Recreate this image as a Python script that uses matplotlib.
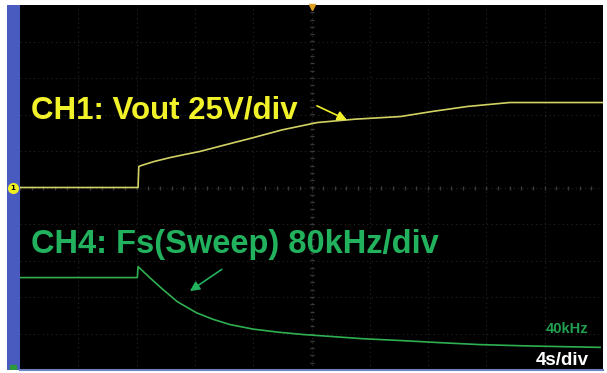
import numpy as np
import matplotlib.pyplot as plt
from matplotlib.patches import Rectangle

# time axis: 4 s/div, 10 divisions
t_div = 4.0
n_xdiv = 10
n_ydiv = 10

# CH1: Vout (V), 25 V/div, ground on centre line
ch1_t = [0, 8.1, 8.15, 8.4, 9.2, 10.3, 11.3, 12.35, 14.0, 15.8, 18.0, 20.4,
         23.0, 26.1, 28.3, 30.7, 33.6, 40]
ch1_v = [0, 0, 14.4, 15.3, 17.8, 20.5, 22.6, 24.7, 29.0, 33.6, 39.5, 44.5,
         46.8, 48.6, 52.1, 55.5, 58.2, 58.2]
ch1_scale = 25.0

# CH4: switching frequency sweep (kHz), 80 kHz/div
ch4_t = [0, 8.05, 8.1, 8.5, 9.0, 9.8, 10.8, 12.1, 13.2, 14.4, 16.0, 17.8,
         19.5, 21.3, 23.5, 26.1, 29.0, 31.6, 35.0, 39.8]
ch4_f = [193, 193, 217, 205, 190, 167, 140, 116, 102, 90, 80, 73,
         68, 64, 59, 55, 50, 46, 43, 40]
ch4_scale = 80.0
ch4_ref = 40.0          # 40kHz marker level
ch4_ref_div = -4.38     # position of 40 kHz on screen (div)

ch1_div = np.array(ch1_v) / ch1_scale
ch4_div = (np.array(ch4_f) - ch4_ref) / ch4_scale + ch4_ref_div

fig = plt.figure(figsize=(6.07, 3.73), dpi=100)
fig.patch.set_facecolor('white')

# blue side bar
bar = fig.add_axes([7 / 607, 3 / 373, 13 / 607, 365 / 373])
bar.set_facecolor('#4a5bbf')
bar.set_xticks([])
bar.set_yticks([])
for s in bar.spines.values():
    s.set_visible(False)
bar.set_xlim(0, 1)
bar.set_ylim(-n_ydiv / 2, n_ydiv / 2)

ax = fig.add_axes([20 / 607, 3 / 373, 583 / 607, 365 / 373])
ax.set_facecolor('#000000')
ax.set_xlim(0, n_xdiv * t_div)
ax.set_ylim(-n_ydiv / 2, n_ydiv / 2)
ax.set_xticks([])
ax.set_yticks([])
for s in ax.spines.values():
    s.set_visible(False)
ax.spines['bottom'].set_visible(True)
ax.spines['bottom'].set_color('#7080c0')
ax.spines['bottom'].set_linewidth(1.5)

# dotted graticule (very faint)
for i in range(1, n_xdiv):
    ax.axvline(i * t_div, color='#262626', lw=0.8, ls=(0, (1, 3)), zorder=1)
for j in range(-n_ydiv // 2 + 1, n_ydiv // 2):
    ax.axhline(j, color='#262626', lw=0.8, ls=(0, (1, 3)), zorder=1)
# centre line tick marks
minor_x = np.arange(0, n_xdiv * t_div, t_div / 5)
ax.plot(minor_x, np.zeros_like(minor_x), ls='none', marker='|', ms=2.5,
        color='#3a3a3a', zorder=1)
minor_y = np.arange(-n_ydiv / 2, n_ydiv / 2, 0.2)
ax.plot(np.full_like(minor_y, n_xdiv * t_div / 2), minor_y, ls='none',
        marker='_', ms=2.5, color='#3a3a3a', zorder=1)

# traces
ax.plot(ch1_t, ch1_div, color='#d2d264', lw=1.2, zorder=3)
ax.plot(ch4_t, ch4_div, color='#2fb050', lw=1.2, zorder=3)

# labels
ax.text(0.75, 1.9, 'CH1: Vout 25V/div', color='#f2f22a', fontsize=22.5,
        fontweight='bold', family='Liberation Sans', zorder=4)
ax.text(0.75, -1.8, 'CH4: Fs(Sweep) 80kHz/div', color='#22b25e', fontsize=23.5,
        fontweight='bold', family='Liberation Sans', zorder=4)
ax.annotate('', xy=(22.6, 1.82), xytext=(20.2, 2.27),
            arrowprops=dict(arrowstyle='-|>', color='#f2f22a', lw=1.2,
                            mutation_scale=14), zorder=4)
ax.annotate('', xy=(11.5, -2.88), xytext=(14.0, -2.2),
            arrowprops=dict(arrowstyle='-|>', color='#22b25e', lw=1.2,
                            mutation_scale=14), zorder=4)

ax.text(39.0, -3.98, '40kHz', color='#22a050', fontsize=10.5,
        fontweight='bold', family='Liberation Sans', ha='right', zorder=4)
ax.text(39.0, -4.85, '4s/div', color='white', fontsize=13.5,
        fontweight='bold', family='Liberation Sans', ha='right', zorder=4)

# channel / trigger markers
bar.plot([0.45], [0], marker='o', ms=7, color='#f0f020', clip_on=False,
         zorder=5)
bar.text(0.45, 0, '1', fontsize=5, ha='center', va='center', color='black',
         fontweight='bold', zorder=6)
bar.add_patch(Rectangle((0.2, -5.0), 0.5, 0.15, color='#2a9a3a'))
ax.plot([n_xdiv * t_div / 2], [n_ydiv / 2 - 0.05], marker='v', ms=5,
        color='#e0a020', clip_on=False, zorder=5)

fig.savefig('out.png', dpi=100, facecolor='white')
